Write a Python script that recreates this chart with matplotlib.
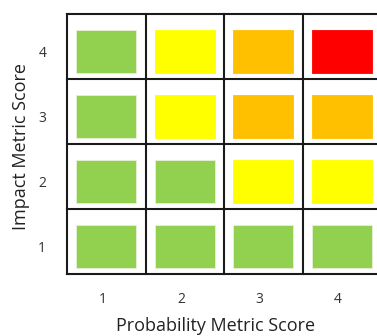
import matplotlib
matplotlib.use("Agg")
import matplotlib.pyplot as plt
from matplotlib.patches import Rectangle

plt.rcParams['font.family'] = ['Open Sans', 'DejaVu Sans']

probability = [1, 2, 3, 4]
impact = [1, 2, 3, 4]
# risk level per impact row (bottom to top), per probability column (left to right)
risk_levels = [
    ["low", "low", "low", "low"],            # impact 1
    ["low", "low", "medium", "medium"],      # impact 2
    ["low", "medium", "high", "high"],       # impact 3
    ["low", "medium", "high", "critical"],   # impact 4
]
level_colors = {"low": "#92D050", "medium": "#FFFF00", "high": "#FFC000", "critical": "#FF0000"}

W, H = 377, 336
fig = plt.figure(figsize=(W / 100, H / 100), dpi=100)
left, right, top, bottom = 67, 381, 14, 274
ax = fig.add_axes([left / W, 1 - bottom / H, (right - left) / W, (bottom - top) / H])
ax.set_xlim(0, len(probability))
ax.set_ylim(0, len(impact))

for r, imp in enumerate(impact):
    for c, p in enumerate(probability):
        col = level_colors[risk_levels[r][c]]
        ax.add_patch(Rectangle((c + 0.12, r + 0.09), 0.765, 0.66,
                               facecolor=col, edgecolor="#e8f0d8" if col == "#92D050" else col,
                               linewidth=0.6, alpha=1))

for k in range(len(probability) + 1):
    ax.axvline(k, color="#1a1a1a", linewidth=1.5, clip_on=False)
for k in range(len(impact) + 1):
    ax.axhline(k, color="#1a1a1a", linewidth=1.5, clip_on=False)

for s in ax.spines.values():
    s.set_visible(False)

ax.set_xticks([c + 0.45 for c in range(len(probability))])
ax.set_xticklabels([str(p) for p in probability])
ax.set_yticks([r + 0.43 for r in range(len(impact))])
ax.set_yticklabels([str(i) for i in impact])
ax.tick_params(length=0, labelsize=10, labelcolor="#333333")
ax.tick_params(axis='x', pad=13)
ax.tick_params(axis='y', pad=15)

ax.set_xlabel("Probability Metric Score", fontsize=13, color="#222222")
ax.xaxis.label.set_va("center")
ax.xaxis.set_label_coords((216 - left) / (right - left), -(326 - bottom) / (bottom - top))
ax.set_ylabel("Impact Metric Score", fontsize=13, color="#222222")
ax.yaxis.label.set_va("center")
ax.yaxis.label.set_ha("center")
ax.yaxis.set_label_coords(-(left - 21) / (right - left), (bottom - 146) / (bottom - top))

fig.savefig("out.png", dpi=100)
